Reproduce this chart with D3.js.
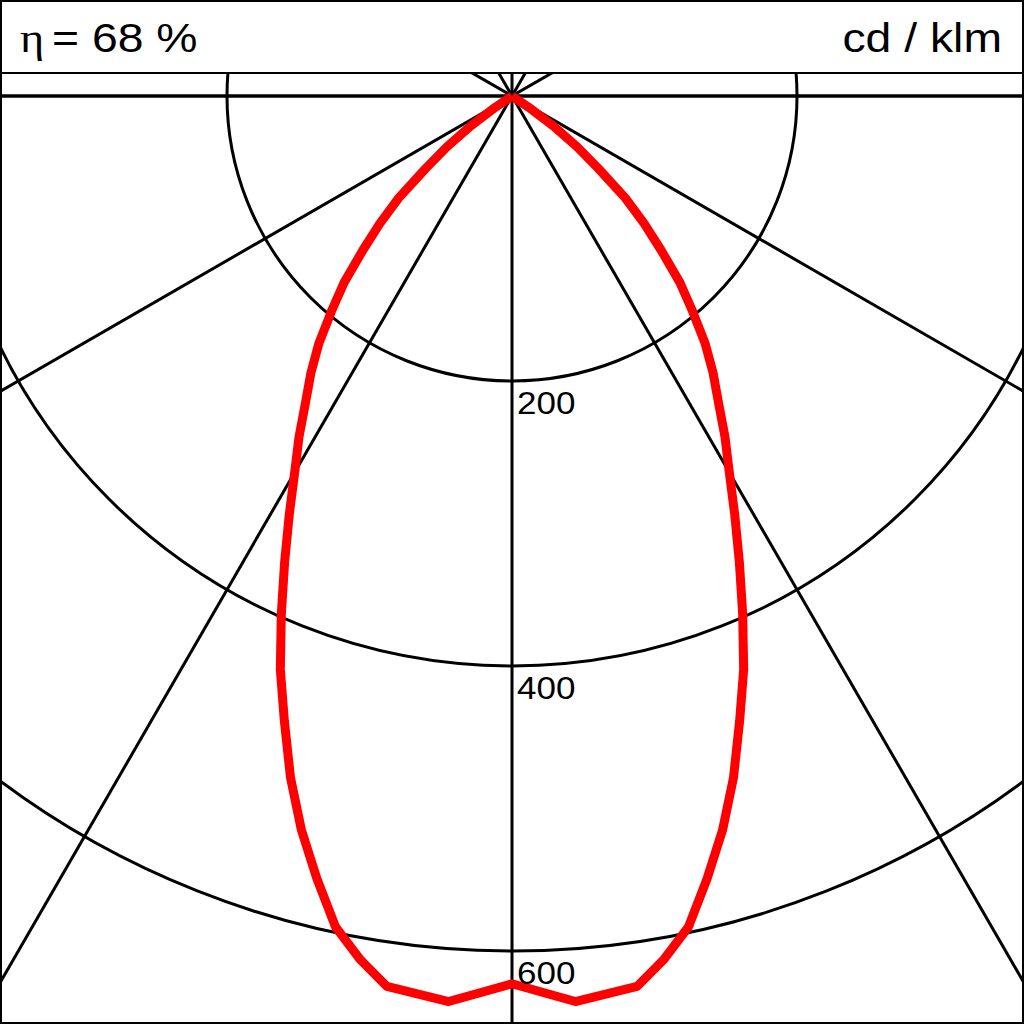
<!DOCTYPE html>
<html>
<head>
<meta charset="utf-8">
<script src="https://cdn.jsdelivr.net/npm/d3@7"></script>
<style>
	html, body { margin: 0; padding: 0; background: #fff; }
	svg { display: block; }
</style>
</head>
<body>
<svg width="1024" height="1024"></svg>
<script>
(function() {
	"use strict"

	// half-plane angles (degrees from nadir) and intensities in cd/klm, mirrored for the other side
	var angles = [0, 4, 8, 10, 12, 14, 16, 18, 20, 22, 24, 26, 28, 30, 32, 34, 36, 38, 40, 42, 44, 46, 48, 50, 52, 54, 56, 58],
		intensity = [623, 637, 631, 615, 596, 566, 536, 503, 467, 434, 398, 364, 333, 305, 282, 259, 240, 220, 197, 176, 151, 129, 107, 79, 58, 36, 14, 0],
		ringTicks = [200, 400, 600],
		spokeAngles = [-60, -30, 0, 30, 60, 90],
		efficiencyLabel = "= 68 %",
		unitLabel = "cd / klm";

	var width = 1024,
		height = 1024,
		headerHeight = 73,
		cx = 512,
		cy = 96,
		stretch = 1.13,
		font = "Liberation Sans, Arial, sans-serif",
		svg = d3.select("svg");

	var r = d3.scaleLinear().domain([0, 600]).range([0, 855]);

	svg.append("defs").append("clipPath")
		.attr("id", "plotClip")
		.append("rect")
			.attr("x", 0)
			.attr("y", headerHeight)
			.attr("width", width)
			.attr("height", height - headerHeight);

	var plot = svg.append("g")
		.attr("clip-path", "url(#plotClip)")
		.append("g")
			.attr("transform", "translate(" + cx + "," + cy + ")");

	// rings
	plot.selectAll("circle.ring")
		.data(ringTicks)
		.enter()
		.append("circle")
			.attr("class", "ring")
			.attr("r", function(d) { return r(d); })
			.style("fill", "none")
			.style("stroke", "#000")
			.style("stroke-width", 3);

	// spokes through the centre
	var len = 2000;
	plot.selectAll("line.spoke")
		.data(spokeAngles)
		.enter()
		.append("line")
			.attr("class", "spoke")
			.attr("x1", function(d) { return -len * Math.sin(d * Math.PI / 180); })
			.attr("y1", function(d) { return -len * Math.cos(d * Math.PI / 180); })
			.attr("x2", function(d) { return len * Math.sin(d * Math.PI / 180); })
			.attr("y2", function(d) { return len * Math.cos(d * Math.PI / 180); })
			.style("stroke", "#000")
			.style("stroke-width", function(d) { return d === 90 ? 3.5 : 3; });

	// mirrored points for the two half planes
	var points = [], i;
	for (i = angles.length - 1; i > 0; --i) {
		points.push({ a: Math.PI + angles[i] * Math.PI / 180, v: intensity[i] });
	}
	for (i = 0; i < angles.length; ++i) {
		points.push({ a: Math.PI - angles[i] * Math.PI / 180, v: intensity[i] });
	}

	var radial = d3.lineRadial()
		.angle(function(d) { return d.a; })
		.radius(function(d) { return r(d.v); })
		.curve(d3.curveLinear);

	plot.append("path")
		.datum(points)
		.attr("d", radial)
		.style("fill", "none")
		.style("stroke", "#ff0000")
		.style("stroke-width", 9)
		.style("stroke-linejoin", "round");

	// ring labels
	plot.selectAll("text.ringLabel")
		.data(ringTicks)
		.enter()
		.append("text")
			.attr("class", "ringLabel")
			.attr("transform", function(d) { return "translate(5," + (r(d) + 33) + ") scale(" + stretch + ",1)"; })
			.style("font-family", font)
			.style("font-size", "31px")
			.style("fill", "#000")
			.text(function(d) { return d; });

	// header
	svg.append("line")
		.attr("x1", 0).attr("x2", width)
		.attr("y1", headerHeight).attr("y2", headerHeight)
		.style("stroke", "#000")
		.style("stroke-width", 2);

	svg.append("text")
		.attr("transform", "translate(20,52) scale(" + stretch + ",1)")
		.style("font-family", "Liberation Serif, Times New Roman, serif")
		.style("font-size", "41px")
		.style("fill", "#000")
		.text("η");

	svg.append("text")
		.attr("transform", "translate(52,52) scale(" + stretch + ",1)")
		.style("font-family", font)
		.style("font-size", "41px")
		.style("fill", "#000")
		.text(efficiencyLabel);

	svg.append("text")
		.attr("transform", "translate(1002,52) scale(" + stretch + ",1)")
		.attr("text-anchor", "end")
		.style("font-family", font)
		.style("font-size", "41px")
		.style("fill", "#000")
		.text(unitLabel);

	// frame
	svg.append("rect")
		.attr("x", 1).attr("y", 1)
		.attr("width", width - 2).attr("height", height - 2)
		.style("fill", "none")
		.style("stroke", "#000")
		.style("stroke-width", 2);
})();
</script>
</body>
</html>
